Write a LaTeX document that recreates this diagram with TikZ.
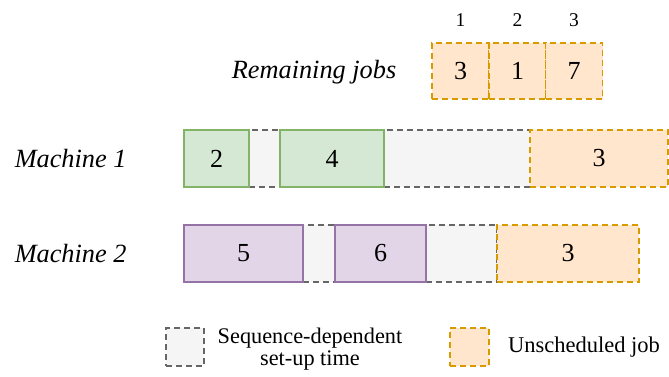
\documentclass[tikz,border=0pt]{standalone}
\usepackage{fontspec}
\setmainfont{Liberation Serif}
\definecolor{jobgreen}{HTML}{D5E8D4}
\definecolor{jobgreenline}{HTML}{82B366}
\definecolor{jobpurple}{HTML}{E1D5E7}
\definecolor{jobpurpleline}{HTML}{9673A6}
\definecolor{unsched}{HTML}{FFE6CC}
\definecolor{unschedline}{HTML}{D79B00}
\definecolor{setupfill}{HTML}{F5F5F5}
\definecolor{setupline}{HTML}{666666}
\begin{document}
\begin{tikzpicture}[x=1pt, y=-1pt, line width=1.5pt,
		box/.style={rectangle, inner sep=0pt, minimum height=57pt, font=\fontsize{26}{30}\selectfont},
		setupbox/.style={box, fill=setupfill, draw=setupline, dash pattern=on 6pt off 4pt},
		unschedbox/.style={box, fill=unsched, draw=unschedline, dash pattern=on 6pt off 4pt},
		mone/.style={box, fill=jobgreen, draw=jobgreenline},
		mtwo/.style={box, fill=jobpurple, draw=jobpurpleline},
		label/.style={inner sep=0pt, font=\fontsize{26.3}{30}\selectfont\itshape}]
		\useasboundingbox (0,0) rectangle (669,376);
		
		%remaining jobs
		\node (remlabel) at (397, 72) [label, anchor=east]{Remaining jobs};
		\foreach \i/\x/\j in {1/460.5/3, 2/517.5/1, 3/574/7}{
			\node (rem\i) at (\x, 71) [unschedbox, minimum width=57pt, minimum height=56pt]{\j};
			\node (pos\i) at (\x, 20) [font=\fontsize{19.5}{20}\selectfont]{\i};
		}
		
		%machine 1
		\node (mlabel1) at (14, 158.5) [label, anchor=west]{Machine 1};
		\node (m1s1) at (264.5, 158.5) [setupbox, minimum width=31pt]{};
		\node (m1s2) at (457, 158.5) [setupbox, minimum width=146pt]{};
		\node (m1j2) at (216.5, 158.5) [mone, minimum width=65pt]{2};
		\node (m1j4) at (332, 158.5) [mone, minimum width=104pt]{4};
		\node (m1u3) at (599, 158.5) [unschedbox, minimum width=138pt]{3};
		
		%machine 2
		\node (mlabel2) at (14, 253.5) [label, anchor=west]{Machine 2};
		\node (m2s1) at (319, 253.5) [setupbox, minimum width=32pt]{};
		\node (m2s2) at (461.5, 253.5) [setupbox, minimum width=71pt]{};
		\node (m2j5) at (243.5, 253.5) [mtwo, minimum width=119pt]{5};
		\node (m2j6) at (380.5, 253.5) [mtwo, minimum width=91pt]{6};
		\node (m2u3) at (568, 253.5) [unschedbox, minimum width=142pt]{3};
		
		%legend
		\node (legsetup) at (185, 347) [setupbox, minimum width=38pt, minimum height=38pt]{};
		\node (legsetuptext) at (310, 349) [align=center, inner sep=0pt, font=\fontsize{22.3}{22}\selectfont]{Sequence-dependent\\set-up time};
		\node (legunsched) at (469.5, 347) [unschedbox, minimum width=39pt, minimum height=38pt]{};
		\node (legunschedtext) at (584, 347) [inner sep=0pt, font=\fontsize{22.5}{22}\selectfont]{Unscheduled job};
\end{tikzpicture}
\end{document}
